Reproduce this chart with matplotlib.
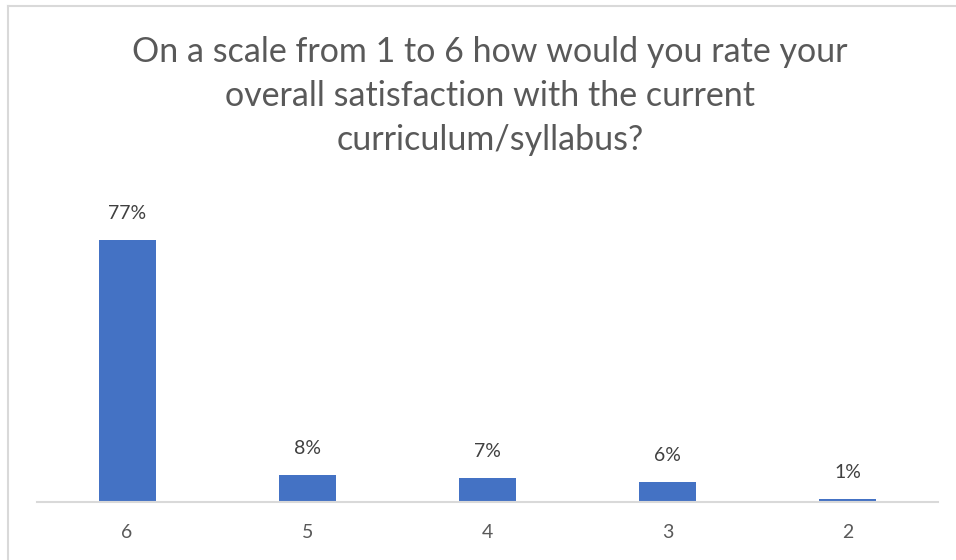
import matplotlib.pyplot as plt
from matplotlib.lines import Line2D

# chart data
categories = ['6', '5', '4', '3', '2']
values = [77, 8, 7, 6, 1]
title = "On a scale from 1 to 6 how would you rate your\noverall satisfaction with the current\ncurriculum/syllabus?"

plt.rcParams['font.family'] = ['Lato', 'DejaVu Sans']

W, H = 956, 560
fig = plt.figure(figsize=(W / 100, H / 100), dpi=100)
ax = fig.add_axes([37 / W, 58 / H, 901 / W, 302 / H])

x = range(len(categories))
bars = ax.bar(x, values, width=0.316, color='#4472C4')
ax.set_xlim(-0.5, len(categories) - 0.5)
ax.set_ylim(0, 302 / 3.4)

for b, v in zip(bars, values):
    ax.annotate(f'{v}%', (b.get_x() + b.get_width() / 2, v),
                xytext=(0, 13), textcoords='offset points',
                ha='center', va='bottom', fontsize=14, color='#404040')

ax.set_xticks(list(x))
ax.set_xticklabels(categories, fontsize=14, color='#595959')
ax.tick_params(axis='x', length=0, pad=16)
ax.set_yticks([])
for s in ['top', 'right', 'left']:
    ax.spines[s].set_visible(False)
ax.spines['bottom'].set_color('#D9D9D9')
ax.spines['bottom'].set_linewidth(1.5)

fig.text(490 / W, 1 - 96 / H, title, ha='center', va='center',
         fontsize=24.5, color='#595959', linespacing=1.45)

# chart area border (cropped at right and bottom)
fig.add_artist(Line2D([7.5 / W, 7.5 / W], [0, 1 - 5.5 / H], color='#D9D9D9', lw=1.5))
fig.add_artist(Line2D([7.5 / W, 1], [1 - 5.5 / H, 1 - 5.5 / H], color='#D9D9D9', lw=1.5))

fig.savefig('out.png', dpi=100, facecolor='white')
